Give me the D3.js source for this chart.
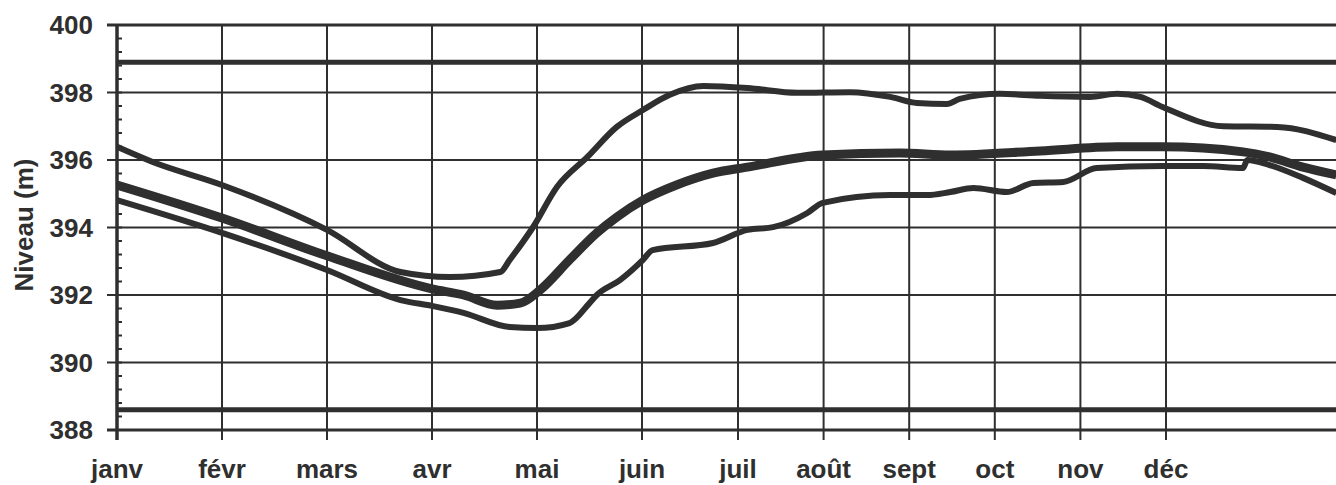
<!DOCTYPE html>
<html>
<head>
<meta charset="utf-8">
<script src="https://cdn.jsdelivr.net/npm/d3@7"></script>
<style>
  body { margin: 0; background: #fff; }
  svg { display: block; }
  text { font-family: "Liberation Sans", Arial, sans-serif; font-weight: bold; fill: #2f2f2f; }
</style>
</head>
<body>
<div id="chart"></div>
<script>
// months (index 0 = janv gridline)
let months = ["janv","févr","mars","avr","mai","juin","juil","août","sept","oct","nov","déc"]
let yTicks = [388,390,392,394,396,398,400]

// reference levels (horizontal thick lines)
let refLevels = [398.9, 388.6]

// upper curve (max)
let maxMonth = [0,0.34,1,2,2.7,3.17,3.65,3.74,3.96,4.19,4.48,4.76,5.01,5.29,5.64,6.11,6.69,7.31,7.78,8.09,8.44,8.59,9.06,9.53,10.11,10.43,10.7,10.96,11.67,12.3,12.99]
let maxLevel = [396.39,395.94,395.26,393.93,392.68,392.53,392.68,393.04,394.0,395.2,396.09,396.98,397.48,397.93,398.19,398.13,397.99,398.01,397.87,397.69,397.66,397.81,397.96,397.9,397.87,397.96,397.87,397.57,397.0,396.98,396.59]

// middle curve (mean)
let meanMonth = [0,1,2,3,3.3,3.62,3.84,4.03,4.31,4.57,4.76,5.01,5.36,5.74,6.11,6.99,7.89,8.48,9.53,10.43,10.96,11.9,12.21,12.6,12.99]
let meanLevel = [395.26,394.28,393.16,392.18,392.0,391.7,391.76,392.15,393.04,393.84,394.31,394.81,395.26,395.61,395.79,396.15,396.21,396.15,396.27,396.39,396.39,396.24,396.09,395.79,395.56]

// lower curve (min)
let minMonth = [0,1,2,2.7,3.01,3.3,3.74,4.0,4.31,4.5,4.57,4.79,5.01,5.11,5.74,6.11,6.41,6.81,6.99,7.78,8.21,8.48,8.75,9.14,9.45,9.8,10.19,10.96,11.43,11.9,11.95,12.21,12.6,12.99]
let minLevel = [394.81,393.84,392.74,391.85,391.67,391.47,391.05,391.02,391.17,391.76,392.0,392.44,393.04,393.33,393.54,393.93,394.01,394.43,394.73,394.96,394.96,395.05,395.17,395.05,395.32,395.35,395.76,395.82,395.82,395.76,396.0,395.85,395.47,395.02]

let width = 1336, height = 485
let plotLeft = 117, plotTop = 25, plotBottom = 430
let ink = "#2f2f2f"

const svg = d3.select("#chart").append("svg").attr("width", width).attr("height", height)

// the scanned axis is not evenly spaced: months after juin are narrower
const x = d3.scaleLinear().domain([0, 5, 6, 11]).range([plotLeft, plotLeft + 525, plotLeft + 621, plotLeft + 1049])
const y = d3.scaleLinear().domain([388, 400]).range([plotBottom, plotTop])

svg.append("clipPath").attr("id", "plot")
  .append("rect").attr("x", plotLeft).attr("y", 0).attr("width", width - plotLeft).attr("height", plotBottom + 20)

// horizontal gridlines
svg.append("g").selectAll("line").data(yTicks).join("line")
  .attr("x1", plotLeft - 10).attr("x2", width)
  .attr("y1", d => y(d)).attr("y2", d => y(d))
  .attr("stroke", ink)
  .attr("stroke-width", d => (d == 400 || d == 388) ? 3 : 2)

// vertical gridlines + ticks
svg.append("g").selectAll("line").data(months).join("line")
  .attr("x1", (d, i) => x(i)).attr("x2", (d, i) => x(i))
  .attr("y1", plotTop).attr("y2", plotBottom + 10)
  .attr("stroke", ink)
  .attr("stroke-width", (d, i) => i ? 2 : 3.5)

// minor ticks on y axis
svg.append("g").selectAll("line").data(d3.range(388, 400.01, 0.4)).join("line")
  .attr("x1", plotLeft).attr("x2", plotLeft + 5)
  .attr("y1", d => y(d)).attr("y2", d => y(d))
  .attr("stroke", ink).attr("stroke-width", 2)

// reference levels
svg.append("g").selectAll("line").data(refLevels).join("line")
  .attr("x1", plotLeft).attr("x2", width)
  .attr("y1", d => y(d)).attr("y2", d => y(d))
  .attr("stroke", ink).attr("stroke-width", 5)

// curves
const line = d3.line().x(d => x(d[0])).y(d => y(d[1])).curve(d3.curveMonotoneX)
let series = [
  { pts: d3.zip(maxMonth, maxLevel), w: 6 },
  { pts: d3.zip(minMonth, minLevel), w: 6 },
  { pts: d3.zip(meanMonth, meanLevel), w: 9 }
]
svg.append("g").attr("clip-path", "url(#plot)")
  .selectAll("path").data(series).join("path")
  .attr("d", d => line(d.pts))
  .attr("fill", "none")
  .attr("stroke", ink)
  .attr("stroke-width", d => d.w)
  .attr("stroke-linejoin", "round")

// y tick labels
svg.append("g").selectAll("text").data(yTicks).join("text")
  .attr("x", 93).attr("y", d => y(d) + 9)
  .attr("text-anchor", "end")
  .attr("font-size", 26)
  .text(d => d)

// month labels
svg.append("g").selectAll("text").data(months).join("text")
  .attr("x", (d, i) => x(i)).attr("y", 478)
  .attr("text-anchor", "middle")
  .attr("font-size", 26)
  .text(d => d)

// axis title
svg.append("text")
  .attr("transform", "translate(33,225) rotate(-90)")
  .attr("text-anchor", "middle")
  .attr("font-size", 26)
  .text("Niveau (m)")
</script>
</body>
</html>
